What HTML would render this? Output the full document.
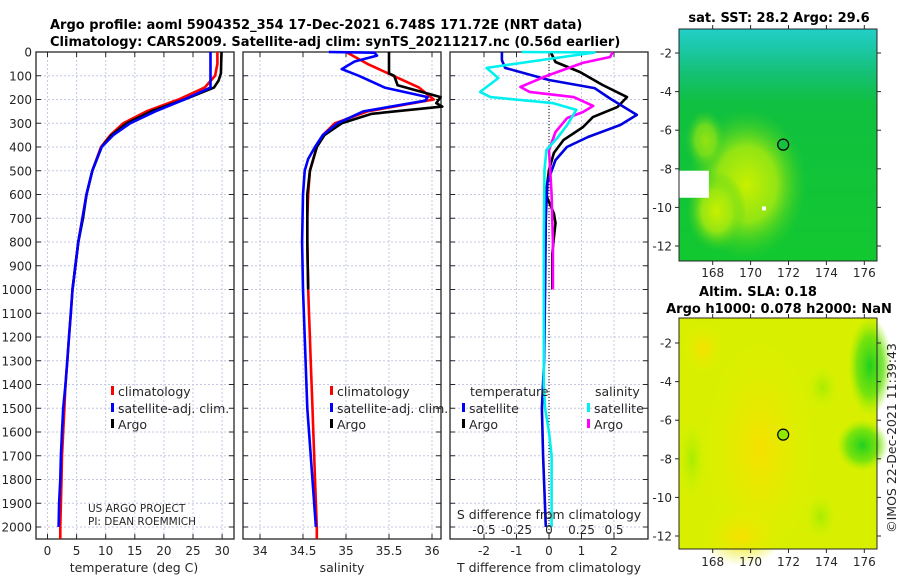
<!DOCTYPE html>
<html><head><meta charset="utf-8">
<style>
html,body{margin:0;padding:0;background:#fff;}
svg{display:block;font-family:"DejaVu Sans","Liberation Sans",sans-serif;}
</style></head>
<body>
<svg id="chart" width="900" height="580" viewBox="0 0 900 580" xmlns="http://www.w3.org/2000/svg">
<defs>
 <linearGradient id="sstBase" x1="0" y1="0" x2="0" y2="1">
  <stop offset="0" stop-color="#22cfc8"/>
  <stop offset="0.08" stop-color="#1cc8a8"/>
  <stop offset="0.2" stop-color="#14c070"/>
  <stop offset="0.32" stop-color="#10c040"/>
  <stop offset="1" stop-color="#12c830"/>
 </linearGradient>
 <radialGradient id="sstBlob">
  <stop offset="0" stop-color="#c8f000"/>
  <stop offset="0.5" stop-color="#a0e810" stop-opacity="0.9"/>
  <stop offset="1" stop-color="#40d020" stop-opacity="0"/>
 </radialGradient>
 <radialGradient id="slaYellow">
  <stop offset="0" stop-color="#f6e000"/>
  <stop offset="1" stop-color="#e6ee00" stop-opacity="0"/>
 </radialGradient>
 <radialGradient id="slaGreen">
  <stop offset="0" stop-color="#20d020"/>
  <stop offset="0.6" stop-color="#60e010" stop-opacity="0.8"/>
  <stop offset="1" stop-color="#a0ec00" stop-opacity="0"/>
 </radialGradient>
 <radialGradient id="slaLight">
  <stop offset="0" stop-color="#a8ec00"/>
  <stop offset="1" stop-color="#c8f000" stop-opacity="0"/>
 </radialGradient>
</defs>
<g id="layer"></g>
</svg>
<script>
// ---------- data ----------
const depthTicks = [0,100,200,300,400,500,600,700,800,900,1000,1100,1200,1300,1400,1500,1600,1700,1800,1900,2000];
const tempTicks = [0,5,10,15,20,25,30];
const salTicks = [34,34.5,35,35.5,36];
const salTickLabels = ["34","34.5","35","35.5","36"];
const tdiffTicks = [-2,-1,0,1,2];
const sdiffTicks = [-0.5,-0.25,0,0.25,0.5];
const sdiffTickLabels = ["-0.5","-0.25","0","0.25","0.5"];
const latTicks = [-2,-4,-6,-8,-10,-12];
const lonTicks = [168,170,172,174,176];

const climDepth = [0,50,100,150,200,250,300,350,400,500,600,700,800,900,1000,1100,1200,1300,1400,1500,1600,1700,1800,1900,2000,2050];
const climTemp  = [29.2,29.2,28.8,27,22.5,17,13,10.8,9.2,7.7,6.7,6.0,5.3,4.8,4.3,4.0,3.7,3.4,3.1,2.9,2.7,2.5,2.4,2.3,2.2,2.2];
const satTempDepth = [0,150,200,250,300,350,400,500,600,700,800,900,1000,1100,1200,1300,1400,1500,1600,1700,1800,1900,2000];
const satTemp  = [28.0,28.0,23.5,18.5,14.2,11.3,9.3,7.7,6.7,6.0,5.3,4.8,4.3,4.0,3.7,3.4,3.1,2.7,2.5,2.3,2.2,2.0,1.9];
const argoDepth = [0,90,120,150,200,250,300,350,400,500,600,700,800,900,1000];
const argoTemp = [29.9,29.8,29.4,28.6,23.5,17.8,13.6,11.0,9.3,7.7,6.7,6.1,5.3,4.8,4.3];

const climSal = [35.0,35.25,35.55,35.85,36.02,35.25,34.87,34.73,34.66,34.58,34.56,34.55,34.55,34.555,34.56,34.57,34.58,34.59,34.6,34.61,34.62,34.63,34.64,34.65,34.66,34.66];
const satSalDepth = [0,3,15,40,72,100,150,190,205,250,300,350,400,450,500,600,800,1000,1500,2000];
const satSal = [34.8,35.33,35.36,35.1,34.95,35.15,35.45,35.95,35.92,35.2,34.9,34.73,34.64,34.56,34.52,34.5,34.49,34.5,34.55,34.65];
const argoSalDepth = [0,90,100,140,160,190,215,230,260,300,350,400,500,600,800,1000];
const argoSal = [35.5,35.5,35.56,35.6,35.8,36.1,36.05,36.12,35.3,34.95,34.75,34.66,34.58,34.55,34.55,34.56];

const tSatDiffDepth = [0,34,67,118,152,198,265,307,358,400,455,550,700,1000,1300,1500,1700,2000];
const tSatDiff = [-1.45,-1.45,-1.35,0,1.4,1.9,2.7,2.2,1.2,0.55,0.2,-0.05,-0.1,-0.12,-0.15,-0.22,-0.18,-0.1];
const tArgoDiffDepth = [0,42,84,139,190,232,274,316,370,425,497,600,680,720,780,850,1000];
const tArgoDiff = [0.05,0.2,0.95,1.65,2.4,2.1,1.35,1.05,0.45,0.15,0.0,-0.1,0.15,0.2,0.15,0.1,0.1];
const sSatDiffDepth = [0,2,67,110,168,190,215,244,307,358,413,497,800,1400,1500,1600,1700,2000];
const sSatDiff = [-0.21,0.35,-0.48,-0.39,-0.53,-0.45,0.03,0.21,0.14,0.07,-0.02,-0.035,-0.04,-0.04,-0.03,0.0,0.02,0.02];
const sArgoDiffDepth = [0,21,46,101,147,168,190,227,253,278,337,413,600,800,1000];
const sArgoDiff = [0.49,0.47,0.26,-0.02,-0.22,-0.15,0.19,0.34,0.26,0.14,0.05,0.0,0.02,0.03,0.03];

const floatLon = 171.72, floatLat = -6.748;

// ---------- scales ----------
const yD = d => 52 + d*0.2375;
const xT = v => 47.5 + v*5.82;
const xS = v => 260 + (v-34)*86;
const xTd = v => 549 + v*32.5;
const xSd = v => 549 + v*130;
const xLon = v => 712.7 + (v-168)*18.95;
const yLatTop = v => 53 + (-2 - v)*19.3;
const yLatBot = v => 343 + (-2 - v)*19.3;

const NS = "http://www.w3.org/2000/svg";
const layer = document.getElementById('layer');
function mk(tag, attrs, parent){
  const e = document.createElementNS(NS, tag);
  for (const k in attrs) e.setAttribute(k, attrs[k]);
  (parent||layer).appendChild(e);
  return e;
}
function txt(s, x, y, size, anchor, weight, parent){
  const t = mk('text', {x:x, y:y, 'font-size':size, 'text-anchor':anchor||'start', 'font-weight':weight||'normal', fill:'#262626'}, parent);
  t.textContent = s;
  return t;
}

// ---------- titles ----------
let t;
t = txt("Argo profile: aoml 5904352_354 17-Dec-2021 6.748S 171.72E (NRT data)", 50, 29, 13, 'start', 'bold');
t.setAttribute('fill', '#000');


t = txt("Climatology: CARS2009. Satellite-adj clim: synTS_20211217.nc (0.56d earlier)", 50, 46, 13, 'start', 'bold');
t.setAttribute('fill', '#000');



// ---------- profile panels ----------
const panels = [
  {x0:36, x1:234, name:'temperature-panel', ticks:tempTicks, labels:tempTicks.map(String), sx:xT, xlabel:'temperature (deg C)', xlc:134},
  {x0:243, x1:441, name:'salinity-panel', ticks:salTicks, labels:salTickLabels, sx:xS, xlabel:'salinity', xlc:342},
  {x0:450, x1:648, name:'difference-panel', ticks:tdiffTicks, labels:tdiffTicks.map(String), sx:xTd, xlabel:'T difference from climatology', xlc:549}
];
const yTop = 52, yBot = 539;
panels.forEach((p, pi) => {
  const g = mk('g', {});
  
  
  depthTicks.forEach(d => {
    const l = mk('line', {x1:p.x0, x2:p.x1, y1:yD(d), y2:yD(d), stroke:'#c4c8e4', 'stroke-width':1, 'stroke-dasharray':'2,2'}, g);
    
    
  });
  p.ticks.forEach(v => {
    const l = mk('line', {x1:p.sx(v), x2:p.sx(v), y1:yTop, y2:yBot, stroke:'#c4c8e4', 'stroke-width':1, 'stroke-dasharray':'2,2'}, g);
    
    
  });
  depthTicks.forEach(d => {
    mk('line', {x1:p.x0, x2:p.x0+5, y1:yD(d), y2:yD(d), stroke:'#262626'}, g);
    mk('line', {x1:p.x1, x2:p.x1-5, y1:yD(d), y2:yD(d), stroke:'#262626'}, g);
  });
  p.ticks.forEach((v,i) => {
    mk('line', {x1:p.sx(v), x2:p.sx(v), y1:yBot, y2:yBot-5, stroke:'#262626'}, g);
    mk('line', {x1:p.sx(v), x2:p.sx(v), y1:yTop, y2:yTop+5, stroke:'#262626'}, g);
    const tl = txt(p.labels[i], p.sx(v), 555, 12, 'middle', 'normal', g);
    
    
  });
  const xl = txt(p.xlabel, p.xlc, 572, 12.5, 'middle', 'normal', g);
  
  
  const fr = mk('rect', {x:p.x0, y:yTop, width:p.x1-p.x0, height:yBot-yTop, fill:'none', stroke:'#262626', 'stroke-width':1.3}, g);
  
  
  p.g = g;
});
depthTicks.forEach(d => {
  const tl = txt(String(d), 32, yD(d)+4.5, 12, 'end');
  
  
});
const zl = mk('line', {x1:xTd(0), x2:xTd(0), y1:yTop, y2:yBot, stroke:'#000', 'stroke-width':1, 'stroke-dasharray':'1,2'});



function series(depths, vals, sx, color, name, width){
  const pts = depths.map((d,i) => sx(vals[i]).toFixed(1)+','+yD(d).toFixed(1)).join(' ');
  const pl = mk('polyline', {points:pts, fill:'none', stroke:color, 'stroke-width':width||2.6, 'stroke-linejoin':'round'});
  
  
}
series(climDepth, climTemp, xT, '#ff0000', 'temp-climatology-line');
series(argoDepth, argoTemp, xT, '#000000', 'temp-argo-line');
series(satTempDepth, satTemp, xT, '#0000ff', 'temp-satellite-line');
series(climDepth, climSal, xS, '#ff0000', 'sal-climatology-line');
series(argoSalDepth, argoSal, xS, '#000000', 'sal-argo-line');
series(satSalDepth, satSal, xS, '#0000ff', 'sal-satellite-line');
series(tArgoDiffDepth, tArgoDiff, xTd, '#000000', 'tdiff-argo-line');
series(tSatDiffDepth, tSatDiff, xTd, '#0000e0', 'tdiff-satellite-line');
series(sArgoDiffDepth, sArgoDiff, xSd, '#ff00ff', 'sdiff-argo-line');
series(sSatDiffDepth, sSatDiff, xSd, '#00f0f0', 'sdiff-satellite-line');

t = txt("S difference from climatology", 549, 519, 12.5, 'middle');


sdiffTicks.forEach((v,i) => {
  const tl = txt(sdiffTickLabels[i], xSd(v), 534, 12, 'middle');
  
  
});

function legendEntry(x, y, color, label){
  const g = mk('g', {});
  
  
  mk('rect', {x:x, y:y-10, width:3, height:9, fill:color}, g);
  txt(label, x+7, y, 12.5, 'start', 'normal', g);
}
[[111,'#ff0000','climatology',396],[111,'#0000ff','satellite-adj. clim.',413],[111,'#000','Argo',429]].forEach(e=>legendEntry(e[0],e[3],e[1],e[2]));
[[330,'#ff0000','climatology',396],[330,'#0000ff','satellite-adj. clim.',413],[330,'#000','Argo',429]].forEach(e=>legendEntry(e[0],e[3],e[1],e[2]));
t = txt("temperature", 470, 396, 12.5);  
t = txt("salinity", 595, 396, 12.5);  
legendEntry(462, 413, '#0000ff', 'satellite');
legendEntry(462, 429, '#000', 'Argo');
legendEntry(587, 413, '#00f0f0', 'satellite');
legendEntry(587, 429, '#ff00ff', 'Argo');

t = txt("US ARGO PROJECT", 88, 512, 10.5);  
t = txt("PI: DEAN ROEMMICH", 88, 525, 10.5);  

// ---------- maps ----------
function mapFrame(name){
  const g = mk('g', {});
  
  
  return g;
}
const sst = mapFrame('sst-map');
mk('rect', {x:679, y:29, width:198, height:232, fill:'url(#sstBase)'}, sst);
mk('ellipse', {cx:xLon(169.8), cy:yLatTop(-8.8), rx:60, ry:75, fill:'url(#sstBlob)'}, sst);
mk('ellipse', {cx:xLon(168.2), cy:yLatTop(-10.2), rx:30, ry:40, fill:'url(#sstBlob)'}, sst);
mk('ellipse', {cx:xLon(167.6), cy:yLatTop(-6.5), rx:20, ry:30, fill:'url(#sstBlob)', opacity:0.7}, sst);
mk('rect', {x:679, y:yLatTop(-8.1), width:xLon(167.8)-679, height:yLatTop(-9.5)-yLatTop(-8.1), fill:'#fff'}, sst);
mk('rect', {x:xLon(170.6), y:yLatTop(-9.95), width:4, height:4, fill:'#fff'}, sst);
const sla = mapFrame('sla-map');
mk('rect', {x:679, y:318, width:198, height:231, fill:'#d8f000'}, sla);
mk('ellipse', {cx:xLon(170.5), cy:yLatBot(-7.5), rx:55, ry:110, fill:'url(#slaYellow)'}, sla);
mk('ellipse', {cx:xLon(169.5), cy:yLatBot(-12), rx:40, ry:30, fill:'url(#slaYellow)'}, sla);
mk('ellipse', {cx:xLon(167.5), cy:yLatBot(-2.3), rx:20, ry:25, fill:'url(#slaYellow)'}, sla);
mk('ellipse', {cx:xLon(176.3), cy:yLatBot(-3.2), rx:22, ry:50, fill:'url(#slaGreen)'}, sla);
mk('ellipse', {cx:xLon(175.9), cy:yLatBot(-7.3), rx:26, ry:26, fill:'url(#slaGreen)'}, sla);
mk('ellipse', {cx:xLon(166.9), cy:yLatBot(-8), rx:14, ry:40, fill:'url(#slaLight)'}, sla);
mk('ellipse', {cx:xLon(173.7), cy:yLatBot(-11), rx:16, ry:24, fill:'url(#slaLight)'}, sla);
mk('ellipse', {cx:xLon(173.8), cy:yLatBot(-4.3), rx:16, ry:22, fill:'url(#slaLight)'}, sla);

[[sst,29,261,yLatTop,277],[sla,318,549,yLatBot,566]].forEach(m => {
  const [g, y0, y1, yl, ly] = m;
  mk('rect', {x:679, y:y0, width:198, height:y1-y0, fill:'none', stroke:'#262626', 'stroke-width':1}, g);
  latTicks.forEach(v => {
    mk('line', {x1:679, x2:675, y1:yl(v), y2:yl(v), stroke:'#262626'}, g);
    mk('line', {x1:877, x2:881, y1:yl(v), y2:yl(v), stroke:'#262626'}, g);
    const tl = txt(String(v), 672, yl(v)+4.5, 12, 'end', 'normal', g);
    
    
  });
  lonTicks.forEach(v => {
    mk('line', {x1:xLon(v), x2:xLon(v), y1:y1, y2:y1+4, stroke:'#262626'}, g);
    mk('line', {x1:xLon(v), x2:xLon(v), y1:y0, y2:y0-4, stroke:'#262626'}, g);
    const tl = txt(String(v), xLon(v), ly, 12, 'middle', 'normal', g);
    
    
  });
  const c = mk('circle', {cx:xLon(floatLon), cy:yl(floatLat), r:5.5, fill: g===sst ? '#18c040' : '#90e800', stroke:'#000', 'stroke-width':1.2}, g);
  
  
});
t = txt("sat. SST: 28.2 Argo: 29.6", 779, 22, 13, 'middle', 'bold'); t.setAttribute('fill','#000');
 
t = txt("Altim. SLA: 0.18", 758, 296, 13, 'middle', 'bold'); t.setAttribute('fill','#000');
 
t = txt("Argo h1000: 0.078 h2000: NaN", 779, 313, 13, 'middle', 'bold'); t.setAttribute('fill','#000');
 
t = txt("\u00A9IMOS 22-Dec-2021 11:39:43", 0, 0, 12.5, 'middle');
t.setAttribute('transform', 'translate(896,438) rotate(-90)');
 
</script>
</body></html>
